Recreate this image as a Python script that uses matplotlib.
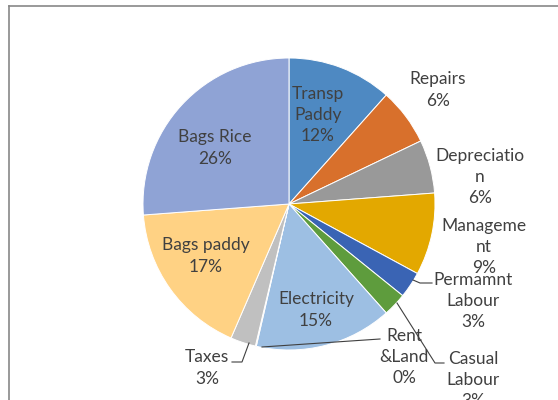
import matplotlib.pyplot as plt
import matplotlib.lines as mlines

plt.rcParams['font.family'] = ['Lato', 'DejaVu Sans']

# Cost shares (percent), in drawing order, clockwise from 12 o'clock
categories = ["Transp Paddy", "Repairs", "Depreciation", "Management",
              "Permanent Labour", "Casual Labour", "Electricity",
              "Rent &Land", "Taxes", "Bags paddy", "Bags Rice"]
values = [11.6, 6.3, 5.9, 9.1, 2.9, 2.6, 15.2, 0.1, 2.8, 17.3, 26.2]
label_texts = ["Transp\nPaddy", "Repairs", "Depreciatio\nn", "Manageme\nnt",
               "Permamnt\nLabour", "Casual\nLabour", "Electricity",
               "Rent\n&Land", "Taxes", "Bags paddy", "Bags Rice"]
colors = ["#4E89C2", "#D8702C", "#999999", "#E3A800", "#3A64B4", "#5E9C3D",
          "#9DBFE3", "#E8A070", "#C0C0C0", "#FFD284", "#8FA3D5"]

W, H = 558, 400
CX, CY, R = 289, 204, 146


def to_data(px, py):
    return (px - CX) / R, (CY - py) / R


fig = plt.figure(figsize=(W / 100, H / 100), dpi=100)
ax = fig.add_axes([0, 0, 1, 1])

ax.pie(values, colors=colors, startangle=90, counterclock=False, radius=1,
       wedgeprops=dict(edgecolor="white", linewidth=0.7))

ax.set_aspect("auto")
ax.set_xlim(-CX / R, (W - CX) / R)
ax.set_ylim((CY - H) / R, CY / R)
ax.axis("off")

# label centres in pixels
label_pos = [(318, 115), (438, 90), (480, 177), (484, 247), (473, 301),
             (473, 380), (316, 310), (404, 357), (207, 368), (206, 256),
             (215, 148)]
for txt, v, (px, py) in zip(label_texts, values, label_pos):
    x, y = to_data(px, py)
    ax.text(x, y, f"{txt}\n{round(v)}%", ha="center", va="center",
            fontsize=12.5, color="#404040", linespacing=1.42)

# leader lines (pixel paths)
leaders = [
    [(413, 280), (420, 283), (432, 283)],
    [(397, 303), (435, 363), (444, 363)],
    [(262, 347), (380, 339)],
    [(249, 343), (242, 362), (232, 362)],
]
for path in leaders:
    xs, ys = zip(*[to_data(px, py) for px, py in path])
    ax.plot(xs, ys, color="#404040", linewidth=0.8)

# chart area border (partially cropped)
fig.add_artist(mlines.Line2D([9 / W, 9 / W], [0, 1 - 6 / H],
                             color="#878787", linewidth=1.2))
fig.add_artist(mlines.Line2D([9 / W, 1], [1 - 6 / H, 1 - 6 / H],
                             color="#878787", linewidth=1.2))

fig.savefig("out.png", dpi=100)
